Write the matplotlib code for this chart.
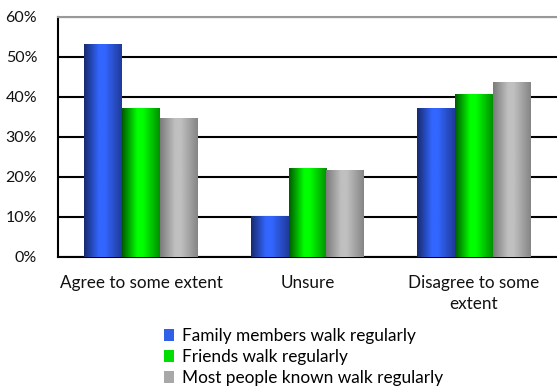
import numpy as np
import matplotlib
matplotlib.use("Agg")
import matplotlib.pyplot as plt
from matplotlib.colors import LinearSegmentedColormap
from matplotlib.patches import Patch

categories = ["Agree to some extent", "Unsure", "Disagree to some\nextent"]
series_names = ["Family members walk regularly", "Friends walk regularly",
                "Most people known walk regularly"]
family = [53.0, 10.0, 37.0]
friends = [37.0, 22.0, 40.5]
most_people = [34.5, 21.5, 43.5]
y_ticks = [0, 10, 20, 30, 40, 50, 60]

# left edge, highlight, right edge of each bar's shading
shades = [
    ["#172a6e", "#3366ff", "#3366ff", "#1f3a99"],
    ["#005a00", "#00ff00", "#00ff00", "#009000"],
    ["#7a7a7a", "#c0c0c0", "#c0c0c0", "#858585"],
]
mid_colors = ["#3060e8", "#00dd00", "#a8a8a8"]

plt.rcParams['font.family'] = ['Lato', 'DejaVu Sans']

fig = plt.figure(figsize=(5.57, 3.87), dpi=100)
ax = fig.add_axes([58 / 557, 1 - 257 / 387, 1 - 58 / 557, (257 - 16.5) / 387])

x = np.arange(len(categories))
w = 0.228
all_series = [family, friends, most_people]
grad = np.linspace(0, 1, 256).reshape(1, -1)
for i, vals in enumerate(all_series):
    bars = ax.bar(x + (i - 1) * w, vals, width=w, color=mid_colors[i], zorder=2)
    cmap = LinearSegmentedColormap.from_list(
        f"g{i}", list(zip([0.0, 0.4, 0.55, 1.0], shades[i])))
    for b in bars:
        ax.imshow(grad, cmap=cmap, aspect='auto', zorder=3,
                  extent=(b.get_x(), b.get_x() + b.get_width(), 0, b.get_height()))

ax.set_xlim(-0.5, 2.5)
ax.set_ylim(0, 60)
ax.set_yticks(y_ticks)
ax.set_yticklabels([f"{t}%" for t in y_ticks], fontsize=11.5, color="#111111")
ax.set_xticks(x)
ax.set_xticklabels(categories, fontsize=12.3, color="#111111", linespacing=1.35)
ax.tick_params(axis='x', length=0, pad=13)
ax.tick_params(axis='y', length=0, pad=15)
ax.yaxis.grid(True, color="black", linewidth=1.5, zorder=1)
ax.set_axisbelow(True)
ax.spines["right"].set_visible(False)
ax.spines["top"].set_color("#999999")
ax.spines["top"].set_linewidth(1.5)
ax.spines["left"].set_linewidth(1.5)
ax.spines["bottom"].set_linewidth(1.5)

handles = [Patch(facecolor=c, edgecolor='none') for c in mid_colors]
fig.legend(handles, series_names, loc='upper left',
           bbox_to_anchor=(152 / 557, 1 - 316 / 387), frameon=False,
           fontsize=12.4, handlelength=0.55, handleheight=0.7, handletextpad=0.5,
           labelspacing=0.3, borderpad=0.2)

fig.savefig("out.png", dpi=100)
